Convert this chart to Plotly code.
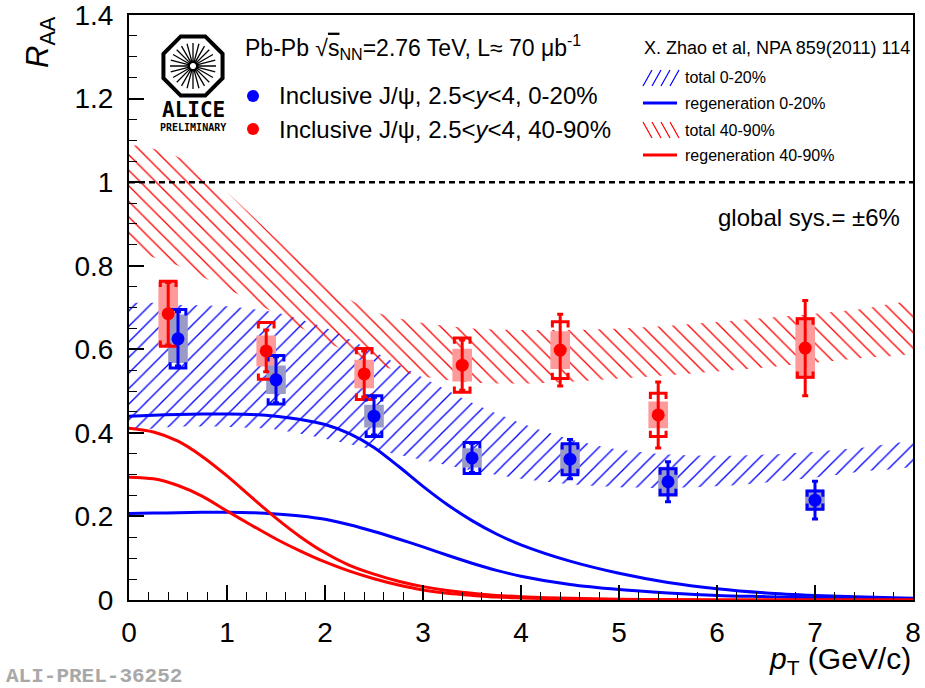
import plotly.graph_objects as go
import numpy as np

# ---------------- data ----------------
pt_central = [0.5, 1.5, 2.5, 3.5, 4.5, 5.5, 7.0]
raa_central = [0.625, 0.527, 0.440, 0.340, 0.337, 0.283, 0.239]
stat_central = [0.065, 0.055, 0.045, 0.035, 0.047, 0.048, 0.045]
sysu_central = [0.070, 0.058, 0.049, 0.037, 0.037, 0.031, 0.022]
sysc_central = [0.058, 0.034, 0.027, 0.023, 0.035, 0.036, 0.025]

pt_periph = [0.4, 1.4, 2.4, 3.4, 4.4, 5.4, 6.9]
raa_periph = [0.685, 0.596, 0.541, 0.562, 0.598, 0.443, 0.603]
stat_periph = [0.075, 0.050, 0.055, 0.060, 0.086, 0.079, 0.114]
sysu_periph = [0.078, 0.068, 0.061, 0.065, 0.068, 0.052, 0.070]
sysc_periph = [0.077, 0.037, 0.034, 0.039, 0.045, 0.032, 0.074]

pt_band = [0, 0.5, 1, 1.5, 2, 2.5, 3, 3.5, 4, 4.5, 5, 5.5, 6, 6.5, 7, 7.5, 8]
band_central_hi = [0.705, 0.706, 0.703, 0.688, 0.652, 0.594, 0.532, 0.472, 0.423, 0.385, 0.360,
                   0.348, 0.345, 0.348, 0.355, 0.365, 0.376]
band_central_lo = [0.415, 0.415, 0.414, 0.408, 0.386, 0.360, 0.335, 0.310, 0.290, 0.277, 0.270,
                   0.268, 0.272, 0.281, 0.293, 0.308, 0.323]
band_periph_hi = [1.085, 1.060, 0.975, 0.865, 0.755, 0.690, 0.663, 0.650, 0.646, 0.646, 0.650,
                  0.656, 0.665, 0.675, 0.685, 0.697, 0.710]
band_periph_lo = [0.850, 0.800, 0.745, 0.685, 0.620, 0.565, 0.535, 0.520, 0.518, 0.522, 0.530,
                  0.538, 0.547, 0.557, 0.568, 0.580, 0.594]

pt_regen = [0, 0.25, 0.5, 0.75, 1, 1.25, 1.5, 1.75, 2, 2.25, 2.5, 2.75, 3, 3.25, 3.5, 3.75, 4,
            4.5, 5, 5.5, 6, 6.5, 7, 7.5, 8]
regen_central_hi = [0.440, 0.442, 0.444, 0.445, 0.445, 0.444, 0.440, 0.432, 0.420, 0.398, 0.365,
                    0.320, 0.272, 0.228, 0.190, 0.158, 0.132, 0.093, 0.064, 0.042, 0.027, 0.017,
                    0.011, 0.007, 0.004]
regen_central_lo = [0.207, 0.208, 0.209, 0.210, 0.210, 0.209, 0.206, 0.201, 0.193, 0.180, 0.164,
                    0.146, 0.127, 0.107, 0.088, 0.071, 0.057, 0.037, 0.025, 0.017, 0.011, 0.008,
                    0.005, 0.004, 0.003]
regen_periph_hi = [0.411, 0.402, 0.380, 0.343, 0.297, 0.246, 0.196, 0.151, 0.113, 0.083, 0.062,
                   0.045, 0.032, 0.023, 0.016, 0.011, 0.008, 0.004, 0.002, 0.001, 0.0, 0.0,
                   0.0, 0.0, 0.0]
regen_periph_lo = [0.294, 0.290, 0.274, 0.248, 0.213, 0.179, 0.146, 0.117, 0.091, 0.069, 0.051,
                   0.036, 0.024, 0.016, 0.011, 0.007, 0.005, 0.002, 0.001, 0.0, 0.0, 0.0,
                   0.0, 0.0, 0.0]

y_ticks = [0, 0.2, 0.4, 0.6, 0.8, 1.0, 1.2, 1.4]
y_ticklabels = ["0", "0.2", "0.4", "0.6", "0.8", "1", "1.2", "1.4"]
x_ticks = [0, 1, 2, 3, 4, 5, 6, 7, 8]

BLUE = "#0000ff"
RED = "#ff0000"
BOX_BLUE = "#9a9ac8"
BOX_RED = "#ff9a9a"

fig = go.Figure()


def band(x, lo, hi, color, shape):
    xs = list(x) + list(x)[::-1] + [x[0]]
    ys = list(hi) + list(lo)[::-1] + [hi[0]]
    fig.add_trace(go.Scatter(
        x=xs, y=ys, mode="lines", fill="toself",
        line=dict(width=0, color="rgba(0,0,0,0)", shape="spline", smoothing=0.6),
        fillcolor="rgba(0,0,0,0)",
        fillpattern=dict(shape=shape, fgcolor=color, bgcolor="rgba(0,0,0,0)", size=11, solidity=0.12,
                         fillmode="replace"),
        hoverinfo="skip", showlegend=False))


band(pt_band, band_central_lo, band_central_hi, BLUE, "/")
band(pt_band, band_periph_lo, band_periph_hi, RED, "\\")

for ys, c in [(regen_central_hi, BLUE), (regen_central_lo, BLUE), (regen_periph_hi, RED), (regen_periph_lo, RED)]:
    fig.add_trace(go.Scatter(x=pt_regen, y=ys, mode="lines",
                             line=dict(color=c, width=3, shape="spline", smoothing=0.8),
                             hoverinfo="skip", showlegend=False))

# unity line
fig.add_trace(go.Scatter(x=[0, 8], y=[1, 1], mode="lines", line=dict(color="black", width=2.5, dash="6px,4px"),
                         hoverinfo="skip", showlegend=False))


def boxes(x, y, e, color, hw=0.1):
    xs, ys = [], []
    for xi, yi, ei in zip(x, y, e):
        xs += [xi - hw, xi + hw, xi + hw, xi - hw, xi - hw, None]
        ys += [yi - ei, yi - ei, yi + ei, yi + ei, yi - ei, None]
    fig.add_trace(go.Scatter(x=xs, y=ys, mode="lines", fill="toself", fillcolor=color,
                             line=dict(width=0, color=color), hoverinfo="skip", showlegend=False))


def brackets(x, y, e, color, hw=0.08, tk=0.014):
    xs, ys = [], []
    for xi, yi, ei in zip(x, y, e):
        xs += [xi - hw, xi - hw, xi + hw, xi + hw, None]
        ys += [yi + ei - tk, yi + ei, yi + ei, yi + ei - tk, None]
        xs += [xi - hw, xi - hw, xi + hw, xi + hw, None]
        ys += [yi - ei + tk, yi - ei, yi - ei, yi - ei + tk, None]
    fig.add_trace(go.Scatter(x=xs, y=ys, mode="lines", line=dict(color=color, width=3),
                             hoverinfo="skip", showlegend=False))


def points(x, y, e, color):
    fig.add_trace(go.Scatter(x=x, y=y, mode="markers",
                             marker=dict(color=color, size=13, symbol="circle"),
                             error_y=dict(type="data", array=e, color=color, thickness=3, width=3),
                             hoverinfo="skip", showlegend=False))


boxes(pt_periph, raa_periph, sysc_periph, BOX_RED)
boxes(pt_central, raa_central, sysc_central, BOX_BLUE)
brackets(pt_periph, raa_periph, sysu_periph, RED)
brackets(pt_central, raa_central, sysu_central, BLUE)
points(pt_periph, raa_periph, stat_periph, RED)
points(pt_central, raa_central, stat_central, BLUE)

# ---------------- decorations (screen pixel -> paper helpers) ----------------
W, H = 925, 688
L, R, T, B = 129, 913, 15, 600   # plot area in pixels


def px(x):
    return (x - L) / (R - L)


def py(y):
    return (B - y) / (B - T)


FONT = "Liberation Sans, Arial, Helvetica, sans-serif"
shapes = []
annotations = []


def text(x, y, s, size, xanchor="left", yanchor="middle", color="black", family=FONT, angle=0):
    annotations.append(dict(x=px(x), y=py(y), xref="paper", yref="paper", text=s, showarrow=False,
                            xanchor=xanchor, yanchor=yanchor, textangle=angle,
                            font=dict(size=size, color=color, family=family)))


# axis titles
text(40, 42, "<i>R</i><sub>AA</sub>", 31, xanchor="center", angle=-90)
text(913, 660, "<i>p</i><sub>T</sub> (GeV/c)", 30, xanchor="right")
text(4, 676, "<b>ALI-PREL-36252</b>", 21, color="#a8a8a8", family="Liberation Mono, DejaVu Sans Mono, monospace")

# top-left legend
text(243, 47, "Pb-Pb \u221a<span style='text-decoration:overline'>s</span><sub>NN</sub>=2.76 TeV, L\u2248 70 \u03bcb<sup>-1</sup>", 23)
text(277, 96, "Inclusive J/\u03c8, 2.5&lt;<i>y</i>&lt;4, 0-20%", 24)
text(277, 129, "Inclusive J/\u03c8, 2.5&lt;<i>y</i>&lt;4, 40-90%", 24)
for yy, c in [(96, BLUE), (129, RED)]:
    shapes.append(dict(type="circle", xref="paper", yref="paper", x0=px(247), x1=px(259), y0=py(yy + 6),
                       y1=py(yy - 6), fillcolor=c, line=dict(width=0)))

# right legend
text(642, 48, "X. Zhao et al, NPA 859(2011) 114", 18)
text(683, 78, "total 0-20%", 16)
text(683, 103, "regeneration 0-20%", 16)
text(683, 130, "total 40-90%", 16)
text(683, 155, "regeneration 40-90%", 16)
text(716, 217, "global sys.= \u00b16%", 24)


def hatch_icon(y0, color, forward):
    segs = []
    for k in range(4):
        xa = 643 + k * 9
        if forward:
            segs.append(f"M{px(xa)},{py(y0 + 16)} L{px(xa + 9)},{py(y0)}")
        else:
            segs.append(f"M{px(xa)},{py(y0)} L{px(xa + 9)},{py(y0 + 16)}")
    shapes.append(dict(type="path", xref="paper", yref="paper", path=" ".join(segs),
                       line=dict(color=color, width=1.2)))


hatch_icon(70, BLUE, True)
hatch_icon(122, RED, False)
for yy, c in [(103, BLUE), (155, RED)]:
    shapes.append(dict(type="line", xref="paper", yref="paper", x0=px(643), x1=px(677), y0=py(yy), y1=py(yy),
                       line=dict(color=c, width=3)))

# ALICE logo
cx, cy, rad = 193, 66, 32
oct_pts = []
for k in range(8):
    a = np.pi / 8 + k * np.pi / 4
    oct_pts.append((cx + rad * np.cos(a), cy - rad * np.sin(a)))
path = "M" + " L".join(f"{px(a)},{py(b)}" for a, b in oct_pts) + " Z"
shapes.append(dict(type="path", xref="paper", yref="paper", path=path, line=dict(color="black", width=4)))
rays = []
for k in range(24):
    a = k * 2 * np.pi / 24
    rays.append(f"M{px(cx + 3 * np.cos(a))},{py(cy - 3 * np.sin(a))} "
                f"L{px(cx + 23 * np.cos(a))},{py(cy - 23 * np.sin(a))}")
shapes.append(dict(type="path", xref="paper", yref="paper", path=" ".join(rays),
                   line=dict(color="black", width=1.3)))
text(193, 110, "<b>ALICE</b>", 21, xanchor="center", family="DejaVu Sans Mono, monospace")
text(193, 128, "<b>PRELIMINARY</b>", 10, xanchor="center", family="DejaVu Sans Mono, monospace")

axis_common = dict(showline=True, linecolor="black", linewidth=2, mirror=True, showgrid=False, zeroline=False,
                   ticks="inside", tickcolor="black", tickwidth=1.5, ticklen=15, automargin=False,
                   ticklabeloverflow="allow",
                   tickfont=dict(size=28, family=FONT, color="black"))

fig.update_layout(
    width=W, height=H,
    margin=dict(l=L, r=W - R, t=T, b=H - B, autoexpand=False),
    paper_bgcolor="white", plot_bgcolor="white",
    showlegend=False,
    xaxis=dict(range=[0, 8], tickmode="array", tickvals=x_ticks, ticklabelstandoff=6,
               minor=dict(dtick=0.2, tick0=0, ticklen=8, ticks="inside", tickcolor="black", tickwidth=1.2,
                          showgrid=False),
               **axis_common),
    yaxis=dict(range=[0, 1.4], tickmode="array", tickvals=y_ticks, ticktext=y_ticklabels, ticklabelstandoff=8,
               minor=dict(dtick=0.05, tick0=0, ticklen=8, ticks="inside", tickcolor="black", tickwidth=1.2,
                          showgrid=False),
               **axis_common),
    shapes=shapes,
    annotations=annotations,
)

# remove the default 8px page margin so the figure sits at the window's top-left corner
fig.write_html("out.html", config={"displayModeBar": False},
               post_script="document.body.style.margin='0px';")
